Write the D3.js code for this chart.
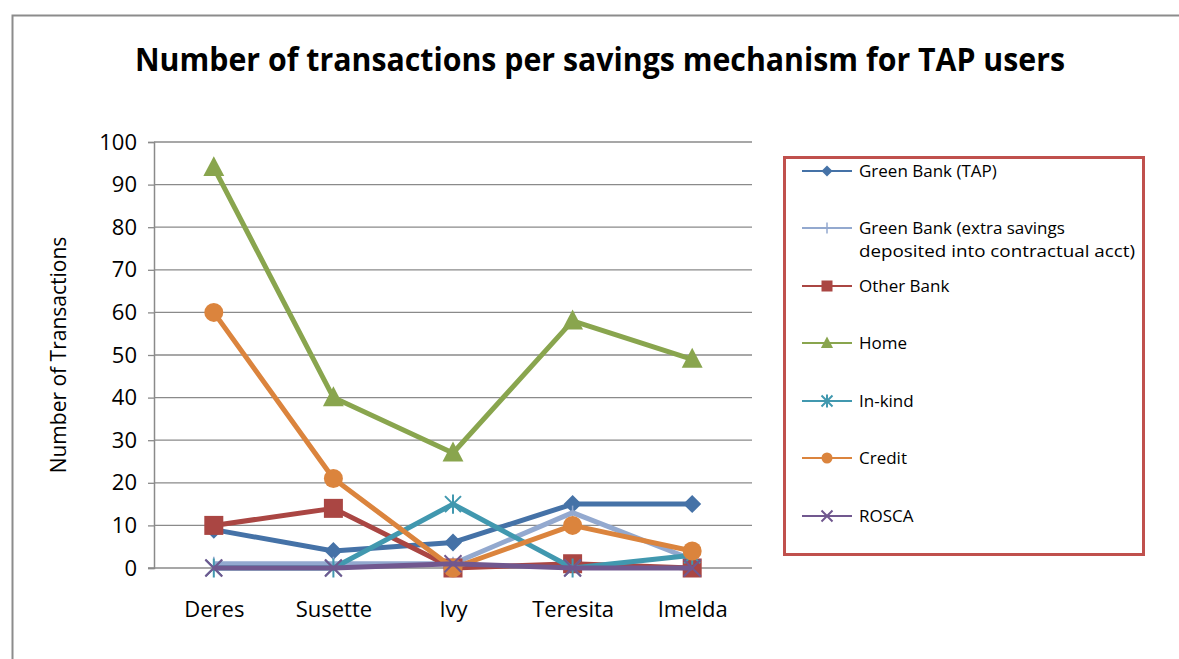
<!DOCTYPE html>
<html>
<head>
<meta charset="utf-8">
<title>savings transactions</title>
<script src="https://cdn.jsdelivr.net/npm/d3@7/dist/d3.min.js"></script>
<style>
  html, body { margin: 0; padding: 0; background: #fff; overflow: hidden; }
  svg { display: block; }
  text { font-family: "Open Sans", sans-serif; }
</style>
</head>
<body>
<svg id="mainsvg" width="1179" height="659"></svg>
<script>
// data
const users = ['Deres', 'Susette', 'Ivy', 'Teresita', 'Imelda'];
const seriesNames = ['Green Bank (TAP)', 'Green Bank (extra savings deposited into contractual acct)',
  'Other Bank', 'Home', 'In-kind', 'Credit', 'ROSCA'];
const greenBankTap = [9, 4, 6, 15, 15];
const greenBankExtra = [1, 1, 1, 13, 2];
const otherBank = [10, 14, 0, 1, 0];
const home = [94, 40, 27, 58, 49];
const inKind = [0, 0, 15, 0, 3];
const credit = [60, 21, 0, 10, 4];
const rosca = [0, 0, 1, 0, 0];
const yTicks = [0, 10, 20, 30, 40, 50, 60, 70, 80, 90, 100];

const allValues = [greenBankTap, greenBankExtra, otherBank, home, inKind, credit, rosca];
const colors = ['#4572A7', '#93A9CF', '#AA4643', '#89A54E', '#4198AF', '#DB843D', '#71588F'];
const markers = ['diamond', 'plus', 'square', 'triangle', 'star', 'circle', 'x'];

const svg = d3.select('#mainsvg');
const margin = {top: 142, left: 154, right: 427, bottom: 91};
const innerWidth = 1179 - margin.left - margin.right;
const innerHeight = 659 - margin.top - margin.bottom;

// outer chart border (cut off at right and bottom)
svg.append('path')
  .attr('d', 'M12.5,659 L12.5,15.5 L1179,15.5')
  .attr('fill', 'none').attr('stroke', '#8c8c8c').attr('stroke-width', 2);

svg.append('text')
  .attr('x', 600).attr('y', 71)
  .attr('text-anchor', 'middle')
  .attr('font-size', 32).attr('font-weight', 'bold')
  .attr('textLength', 930).attr('lengthAdjust', 'spacingAndGlyphs')
  .text('Number of transactions per savings mechanism for TAP users');

const g = svg.append('g').attr('transform', `translate(${margin.left},${margin.top})`);

const xScale = d3.scalePoint().domain(users).range([0, innerWidth]).padding(0.5);
const yScale = d3.scaleLinear().domain([0, 100]).range([innerHeight, 0]);

// gridlines
g.append('g').selectAll('line').data(yTicks.slice(1)).join('line')
  .attr('x1', 0).attr('x2', innerWidth)
  .attr('y1', d => yScale(d)).attr('y2', d => yScale(d))
  .attr('stroke', '#8a8a8a').attr('stroke-width', 1.3);

// y axis
const yAxis = d3.axisLeft(yScale).tickValues(yTicks).tickSize(6).tickPadding(11);
const yAxisGroup = g.append('g').call(yAxis);
yAxisGroup.select('.domain').attr('stroke', '#8a8a8a').attr('stroke-width', 1.5);
yAxisGroup.selectAll('.tick line').attr('stroke', '#8a8a8a').attr('stroke-width', 1.3);
yAxisGroup.selectAll('.tick text').attr('font-size', 22).attr('fill', '#000')
  .style('font-family', '"Open Sans", sans-serif');

// x axis
const xAxis = d3.axisBottom(xScale).tickSize(0).tickPadding(33);
const xAxisGroup = g.append('g').attr('transform', `translate(0,${innerHeight})`).call(xAxis);
xAxisGroup.select('.domain').remove();
xAxisGroup.append('line').attr('x1', -6).attr('x2', innerWidth)
  .attr('stroke', '#8a8a8a').attr('stroke-width', 1.5);
xAxisGroup.selectAll('.tick text').attr('font-size', 22).attr('fill', '#000')
  .style('font-family', '"Open Sans", sans-serif');

svg.append('text')
  .attr('transform', `translate(66,${margin.top + innerHeight / 2}) rotate(-90)`)
  .attr('text-anchor', 'middle')
  .attr('font-size', 21)
  .text('Number of Transactions');

// marker drawer
function drawMarker(sel, type, color, s) {
  if (type === 'diamond') {
    sel.append('path').attr('d', `M0,${-s / 2}L${s / 2},0L0,${s / 2}L${-s / 2},0Z`).attr('fill', color);
  } else if (type === 'square') {
    sel.append('rect').attr('x', -s / 2).attr('y', -s / 2).attr('width', s).attr('height', s).attr('fill', color);
  } else if (type === 'triangle') {
    sel.append('path').attr('d', `M0,${-s * 0.6}L${s * 0.55},${s * 0.45}L${-s * 0.55},${s * 0.45}Z`).attr('fill', color);
  } else if (type === 'circle') {
    sel.append('circle').attr('r', s / 2).attr('fill', color);
  } else if (type === 'plus') {
    sel.append('path').attr('d', `M0,${-s / 2}V${s / 2}`).attr('stroke', color).attr('stroke-width', 1.5);
  } else if (type === 'star') {
    sel.append('path').attr('d', `M${-s / 2},${-s / 2}L${s / 2},${s / 2}M${-s / 2},${s / 2}L${s / 2},${-s / 2}M0,${-s * 0.6}V${s * 0.6}`)
      .attr('stroke', color).attr('stroke-width', 2).attr('fill', 'none');
  } else if (type === 'x') {
    sel.append('path').attr('d', `M${-s / 2},${-s / 2}L${s / 2},${s / 2}M${-s / 2},${s / 2}L${s / 2},${-s / 2}`)
      .attr('stroke', color).attr('stroke-width', 2).attr('fill', 'none');
  }
}

const line = d3.line().x((d, i) => xScale(users[i])).y(d => yScale(d));
const markerSize = [18, 14, 19, 19, 16, 19, 17];

allValues.forEach((vals, k) => {
  const sg = g.append('g');
  sg.append('path').attr('d', line(vals))
    .attr('fill', 'none').attr('stroke', colors[k]).attr('stroke-width', 5)
    .attr('stroke-linejoin', 'round');
  vals.forEach((v, i) => {
    const mg = sg.append('g').attr('transform', `translate(${xScale(users[i])},${yScale(v)})`);
    drawMarker(mg, markers[k], colors[k], markerSize[k]);
  });
});

// legend
const legend = svg.append('g');
legend.append('rect').attr('x', 784.5).attr('y', 157.5).attr('width', 359).attr('height', 397)
  .attr('fill', '#fff').attr('stroke', '#C0504D').attr('stroke-width', 3);
const legendY = [171, 228, 286, 343, 401, 458, 516];
seriesNames.forEach((name, k) => {
  const lg = legend.append('g').attr('transform', `translate(0,${legendY[k]})`);
  lg.append('line').attr('x1', 802).attr('x2', 852).attr('stroke', colors[k]).attr('stroke-width', 2);
  const mg = lg.append('g').attr('transform', 'translate(827,0)');
  drawMarker(mg, markers[k], colors[k], 11);
  const t = lg.append('text').attr('x', 859).attr('y', 6).attr('font-size', 17);
  if (k === 1) {
    t.append('tspan').attr('x', 859).attr('y', 6).text('Green Bank (extra savings');
    t.append('tspan').attr('x', 859).attr('y', 29).attr('textLength', 276)
      .attr('lengthAdjust', 'spacingAndGlyphs').text('deposited into contractual acct)');
  } else {
    t.text(name);
  }
});
</script>
</body>
</html>
